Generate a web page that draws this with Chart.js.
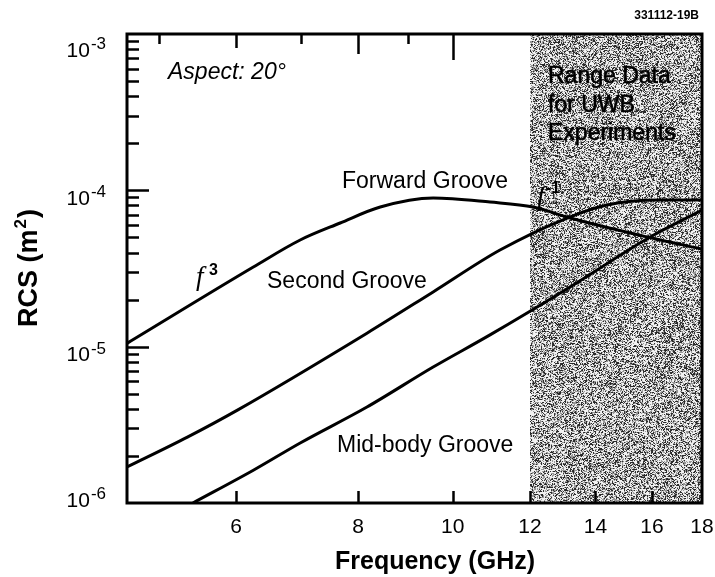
<!DOCTYPE html>
<html>
<head>
<meta charset="utf-8">
<script src="https://cdn.jsdelivr.net/npm/chart.js@4.4.1/dist/chart.umd.min.js"></script>
<style>
  html, body { margin: 0; padding: 0; background: #fff; }
  #wrap { width: 715px; height: 577px; }
</style>
</head>
<body>
<div id="wrap"><canvas id="rcsChart" width="715" height="577"></canvas></div>
<script>
// Valores: frequência em GHz, RCS em m^2
const forwardFreq = [4.64, 6.25, 6.98, 7.67, 8.43, 9.55, 10.92, 12.09, 13.19, 15.82, 18];
const forwardRcs  = [1.05e-5, 3.23e-5, 4.81e-5, 6.18e-5, 7.82e-5, 8.93e-5, 8.41e-5, 7.82e-5, 6.65e-5, 5.03e-5, 4.21e-5];

const secondFreq = [4.64, 5.35, 6.02, 8.17, 9.55, 11.18, 13.1, 14.39, 16.2, 18];
const secondRcs  = [1.70e-6, 2.64e-6, 3.93e-6, 1.22e-5, 2.24e-5, 4.15e-5, 6.65e-5, 8.05e-5, 8.67e-5, 8.67e-5];

const midFreq = [5.42, 6.25, 6.98, 8.17, 9.55, 10.92, 13.19, 15.93, 18];
const midRcs  = [1.0e-6, 1.62e-6, 2.42e-6, 4.11e-6, 7.41e-6, 1.19e-5, 2.41e-5, 5.03e-5, 7.48e-5];

const xTickLabels = [6, 8, 10, 12, 14, 16, 18];
const xTopTicks = [5, 6, 7, 8, 9, 10];
const xBottomTicks = [6, 8, 10, 12, 14, 16];
const yDecades = [1e-6, 1e-5, 1e-4, 1e-3];
const uwbBand = [12, 18];

const FONT = "'Liberation Sans', Arial, Helvetica, sans-serif";

function toPoints(xs, ys) {
    return xs.map((x, i) => ({ x: x, y: ys[i] }));
}

// textura pontilhada da faixa UWB (determinística)
function stipple(w, h) {
    const c = document.createElement('canvas');
    c.width = Math.max(1, Math.round(w));
    c.height = Math.max(1, Math.round(h));
    const g = c.getContext('2d');
    const img = g.createImageData(c.width, c.height);
    let s = 987654321;
    for (let i = 0; i < c.width * c.height; i++) {
        s = (Math.imul(s, 1103515245) + 12345) >>> 0;
        const r = (s >>> 8) / 16777216;
        const v = r < 0.27 ? 40 : (r < 0.55 ? 150 : 242);
        img.data[i * 4] = v;
        img.data[i * 4 + 1] = v;
        img.data[i * 4 + 2] = v;
        img.data[i * 4 + 3] = 255;
    }
    g.putImageData(img, 0, 0);
    return c;
}

const rcsDecor = {
    id: 'rcsDecor',
    beforeDatasetsDraw(chart) {
        const { ctx, chartArea: a, scales: { x } } = chart;
        const x0 = x.getPixelForValue(uwbBand[0]);
        const x1 = x.getPixelForValue(uwbBand[1]);
        ctx.save();
        ctx.drawImage(stipple(x1 - x0, a.bottom - a.top), x0, a.top);
        ctx.restore();
    },
    afterDatasetsDraw(chart) {
        const { ctx, chartArea: a, scales: { x, y } } = chart;
        ctx.save();
        ctx.strokeStyle = '#000';
        ctx.fillStyle = '#000';

        // marcas do eixo Y (lado esquerdo, para dentro)
        ctx.lineWidth = 2.5;
        for (let d = -6; d < -3; d++) {
            for (let m = 1; m <= 9; m++) {
                if (d === -6 && m === 1) continue;
                const py = Math.round(y.getPixelForValue(m * Math.pow(10, d))) + 0.5;
                const len = m === 1 ? 22 : 12;
                ctx.beginPath();
                ctx.moveTo(a.left, py);
                ctx.lineTo(a.left + len, py);
                ctx.stroke();
            }
        }

        // marcas do eixo X (topo e base)
        xTopTicks.forEach(v => {
            const px = Math.round(x.getPixelForValue(v)) + 0.5;
            const len = v === 10 ? 26 : (v === 8 ? 20 : (v === 6 ? 14 : 10));
            ctx.beginPath();
            ctx.moveTo(px, a.top);
            ctx.lineTo(px, a.top + len);
            ctx.stroke();
        });
        xBottomTicks.forEach(v => {
            const px = Math.round(x.getPixelForValue(v)) + 0.5;
            ctx.beginPath();
            ctx.moveTo(px, a.bottom);
            ctx.lineTo(px, a.bottom - 12);
            ctx.stroke();
        });

        // moldura
        ctx.lineWidth = 3;
        ctx.strokeRect(a.left, a.top, a.right - a.left, a.bottom - a.top);

        // rótulos do eixo Y (10^n)
        ctx.textAlign = 'left';
        yDecades.forEach(v => {
            const exp = Math.round(Math.log10(v));
            let py = y.getPixelForValue(v) + 9;
            py = Math.min(Math.max(py, a.top + 17), a.bottom - 2);
            ctx.font = '21px ' + FONT;
            const wBase = ctx.measureText('10').width;
            ctx.font = '17px ' + FONT;
            const wSup = ctx.measureText(String(exp)).width;
            const left = 106 - wBase - wSup - 1;
            ctx.font = '21px ' + FONT;
            ctx.textBaseline = 'middle';
            ctx.fillText('10', left, py);
            ctx.font = '17px ' + FONT;
            ctx.textBaseline = 'alphabetic';
            ctx.fillText(String(exp), left + wBase + 1, py - 2);
        });

        // títulos dos eixos
        ctx.textBaseline = 'alphabetic';
        ctx.textAlign = 'center';
        ctx.font = 'bold 25px ' + FONT;
        ctx.fillText('Frequency (GHz)', 435, 569);

        ctx.save();
        ctx.translate(37, 327);
        ctx.rotate(-Math.PI / 2);
        ctx.textAlign = 'left';
        ctx.font = 'bold 27px ' + FONT;
        ctx.fillText('RCS (m', 0, 0);
        let w = ctx.measureText('RCS (m').width;
        ctx.font = 'bold 17px ' + FONT;
        ctx.fillText('2', w + 1, -11);
        w += ctx.measureText('2').width + 2;
        ctx.font = 'bold 27px ' + FONT;
        ctx.fillText(')', w, 0);
        ctx.restore();

        // anotações
        ctx.textAlign = 'left';
        ctx.font = 'italic 23px ' + FONT;
        ctx.fillText('Aspect: 20\u00B0', 168, 79);

        ctx.font = '23px ' + FONT;
        ctx.fillText('Forward Groove', 342, 188);
        ctx.fillText('Second Groove', 267, 288);
        ctx.fillText('Mid-body Groove', 337, 452);

        ctx.lineWidth = 0.6;
        [['Range Data', 83], ['for UWB', 112], ['Experiments', 140]].forEach(([t, by]) => {
            ctx.fillText(t, 548, by);
            ctx.strokeText(t, 548, by);
        });

        // f^3 e f^-1
        ctx.font = "italic 27px 'Liberation Serif', 'Times New Roman', serif";
        ctx.fillText('f', 196, 285);
        ctx.fillText('f', 537, 205);
        ctx.font = 'bold 16px ' + FONT;
        ctx.fillText('3', 209, 275);
        ctx.fillText('-1', 546, 193);

        ctx.textAlign = 'right';
        ctx.font = 'bold 12px ' + FONT;
        ctx.fillText('331112-19B', 699, 19);

        ctx.restore();
    }
};

const ctx = document.getElementById('rcsChart').getContext('2d');
new Chart(ctx, {
    type: 'line',
    data: {
        datasets: [
            { label: 'Forward Groove', data: toPoints(forwardFreq, forwardRcs) },
            { label: 'Second Groove', data: toPoints(secondFreq, secondRcs) },
            { label: 'Mid-body Groove', data: toPoints(midFreq, midRcs) }
        ]
    },
    options: {
        responsive: false,
        animation: false,
        devicePixelRatio: 1,
        layout: { padding: { left: 0, right: 13, top: 34, bottom: 0 } },
        elements: {
            point: { radius: 0 },
            line: { borderColor: '#000', borderWidth: 3, cubicInterpolationMode: 'monotone', fill: false }
        },
        plugins: { legend: { display: false }, tooltip: { enabled: false } },
        scales: {
            x: {
                type: 'logarithmic',
                min: 4.64,
                max: 18,
                afterBuildTicks: s => { s.ticks = xTickLabels.map(v => ({ value: v })); },
                afterFit: s => { s.height = 74; s.paddingLeft = 0; s.paddingRight = 0; },
                grid: { display: false, drawTicks: false },
                border: { display: false },
                ticks: {
                    autoSkip: false,
                    maxRotation: 0,
                    padding: 12,
                    color: '#000',
                    font: { size: 21, family: FONT },
                    callback: v => String(v)
                }
            },
            y: {
                type: 'logarithmic',
                min: 1e-6,
                max: 1e-3,
                afterBuildTicks: s => { s.ticks = yDecades.map(v => ({ value: v })); },
                afterFit: s => { s.width = 127; s.paddingTop = 0; s.paddingBottom = 0; },
                grid: { display: false, drawTicks: false },
                border: { display: false },
                ticks: { display: false }
            }
        }
    },
    plugins: [rcsDecor]
});
</script>
</body>
</html>
